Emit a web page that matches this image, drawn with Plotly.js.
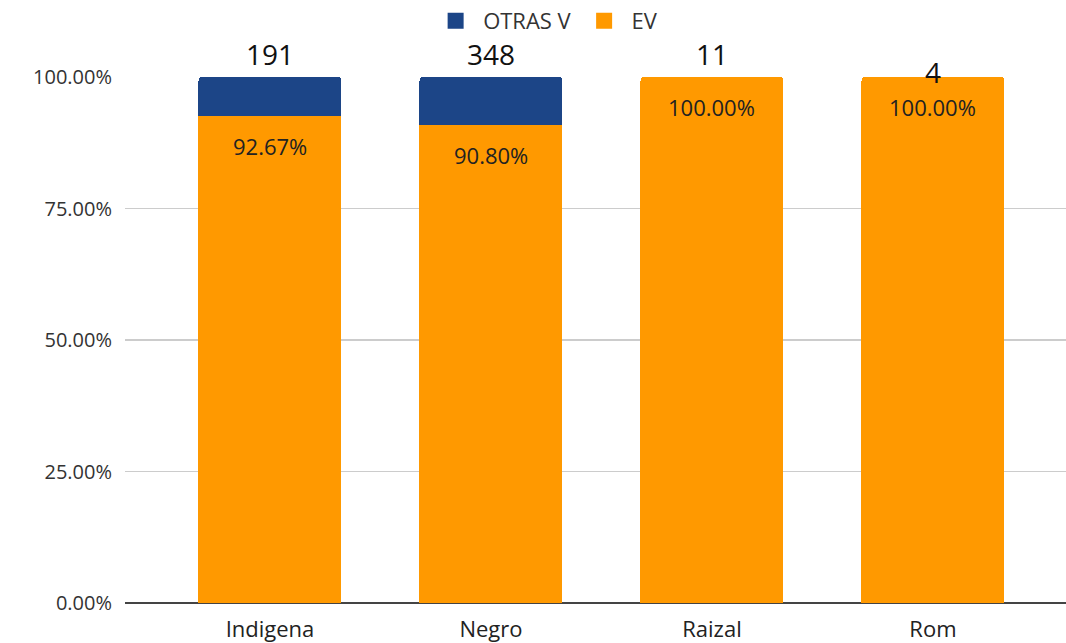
<!DOCTYPE html>
<html>
<head>
<meta charset="utf-8">
<script src="https://cdn.plot.ly/plotly-3.0.1.min.js"></script>
<style>html,body{margin:0;padding:0;background:#fff;}#chart{width:1066px;height:643px;}</style>
</head>
<body>
<div id="chart"></div>
<script>
var categories = ["Indigena", "Negro", "Raizal", "Rom"];
var evShare = [0.9267, 0.9080, 1.0, 1.0];
var otrasShare = [0.0733, 0.0920, 0.0, 0.0];
var totals = [191, 348, 11, 4];
var evLabels = ["92.67%", "90.80%", "100.00%", "100.00%"];
var seriesNames = ["OTRAS V", "EV"];
var seriesColors = ["#1c4587", "#ff9900"];
var totalShift = [2, 2, 2, -16];

var FONT = "Open Sans, DejaVu Sans, sans-serif";

var traces = [
  {
    type: "bar", name: seriesNames[1], x: categories, y: evShare,
    marker: {color: seriesColors[1]}, width: 0.647, hoverinfo: "skip", showlegend: false
  },
  {
    type: "bar", name: seriesNames[0], x: categories, y: otrasShare,
    marker: {color: seriesColors[0]}, width: 0.647, hoverinfo: "skip", showlegend: false
  }
];
// legend entries with larger square keys
seriesNames.forEach(function (n, i) {
  traces.push({
    type: "scatter", mode: "markers", name: n, x: [null], y: [null],
    marker: {symbol: "square", size: 16, color: seriesColors[i]}, hoverinfo: "skip"
  });
});

var annotations = [];
categories.forEach(function (c, i) {
  annotations.push({
    x: c, y: evShare[i] + otrasShare[i], xref: "x", yref: "y",
    text: String(totals[i]), showarrow: false, yanchor: "bottom",
    yshift: totalShift[i], font: {family: FONT, size: 28, color: "#111"}
  });
  annotations.push({
    x: c, y: evShare[i], xref: "x", yref: "y",
    text: evLabels[i], showarrow: false, yanchor: "top",
    yshift: -13, font: {family: FONT, size: 22, color: "#222"}
  });
});

var layout = {
  width: 1066, height: 643,
  margin: {l: 125, r: 0, t: 77, b: 40},
  paper_bgcolor: "#fff", plot_bgcolor: "#fff",
  barmode: "stack",
  barcornerradius: 4,
  font: {family: FONT, size: 20, color: "#333"},
  showlegend: true,
  legend: {
    orientation: "h", x: 0.447, xanchor: "center", y: 1.0, yref: "container",
    yanchor: "top", itemwidth: 45, traceorder: "normal",
    font: {family: FONT, size: 22, color: "#333"}
  },
  xaxis: {
    type: "category", range: [-0.656, 3.602], showgrid: false,
    tickfont: {family: FONT, size: 22, color: "#222"}, ticks: "", ticklabelstandoff: 11,
    showline: false, zeroline: false
  },
  yaxis: {
    range: [0, 1], tickvals: [0, 0.25, 0.5, 0.75, 1.0],
    tickformat: ".2%", gridcolor: "#cccccc", gridwidth: 1.5,
    zeroline: true, zerolinecolor: "#444", zerolinewidth: 2,
    tickfont: {family: FONT, size: 20, color: "#333"}, ticklabelstandoff: 12
  },
  annotations: annotations
};

Plotly.newPlot("chart", traces, layout, {displayModeBar: false, staticPlot: true});
</script>
</body>
</html>
